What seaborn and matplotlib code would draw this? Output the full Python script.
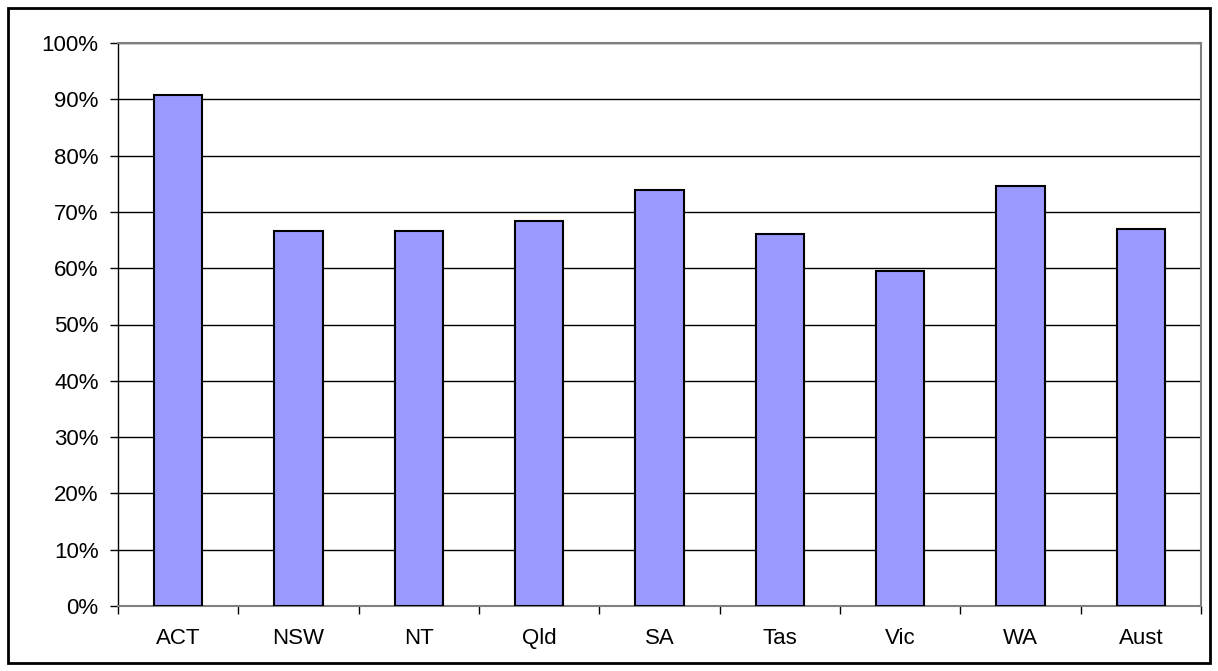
import numpy as np
import pandas as pd
import matplotlib
matplotlib.use("Agg")
import matplotlib.pyplot as plt
from matplotlib.patches import Rectangle
from matplotlib.ticker import PercentFormatter, FixedLocator, NullFormatter
import seaborn as sns

# --- Data ---
states = ["ACT", "NSW", "NT", "Qld", "SA", "Tas", "Vic", "WA", "Aust"]
share = [90.8, 66.6, 66.6, 68.4, 73.9, 66.1, 59.5, 74.6, 67.0]

sns.set_style("white")
plt.rcParams['font.family'] = ['Liberation Sans', 'DejaVu Sans']

df = pd.DataFrame({"State": states, "Share": share})

fig = plt.figure(figsize=(12.18, 6.71), dpi=100)
ax = fig.add_axes([118 / 1218, 65 / 671, 1083 / 1218, 563 / 671])

sns.barplot(data=df, x="State", y="Share", ax=ax, color="#9999FF",
            saturation=1, width=0.4, edgecolor="black", linewidth=1.5, zorder=3)

ax.set_ylim(0, 100)
ax.set_xlim(-0.5, len(states) - 0.5)
ax.set_yticks(np.arange(0, 101, 10))
ax.yaxis.set_major_formatter(PercentFormatter(decimals=0))
ax.yaxis.grid(True, color="black", linewidth=1)
ax.set_axisbelow(True)

# ticks between categories
ax.xaxis.set_minor_locator(FixedLocator(np.arange(-0.5, len(states), 1)))
ax.xaxis.set_minor_formatter(NullFormatter())
ax.tick_params(axis="x", which="major", length=0, pad=16, labelsize=16,
               labelcolor="black", bottom=True)
ax.tick_params(axis="x", which="minor", length=6, width=1, color="black",
               direction="out", bottom=True)
ax.tick_params(axis="y", length=6, width=1, color="black", direction="out",
               pad=8, labelsize=16, labelcolor="black", left=True)
ax.set_xlabel("")
ax.set_ylabel("")

for side in ["top", "right", "bottom"]:
    ax.spines[side].set_color("#808080")
    ax.spines[side].set_linewidth(1.5)
ax.spines["left"].set_color("black")
ax.spines["left"].set_linewidth(1)

# outer chart border
fig.patches.append(Rectangle((8 / 1218, 8 / 671), 1202 / 1218, 655 / 671,
                             transform=fig.transFigure, fill=False,
                             edgecolor="black", linewidth=2))

fig.savefig("out.png", dpi=100)
